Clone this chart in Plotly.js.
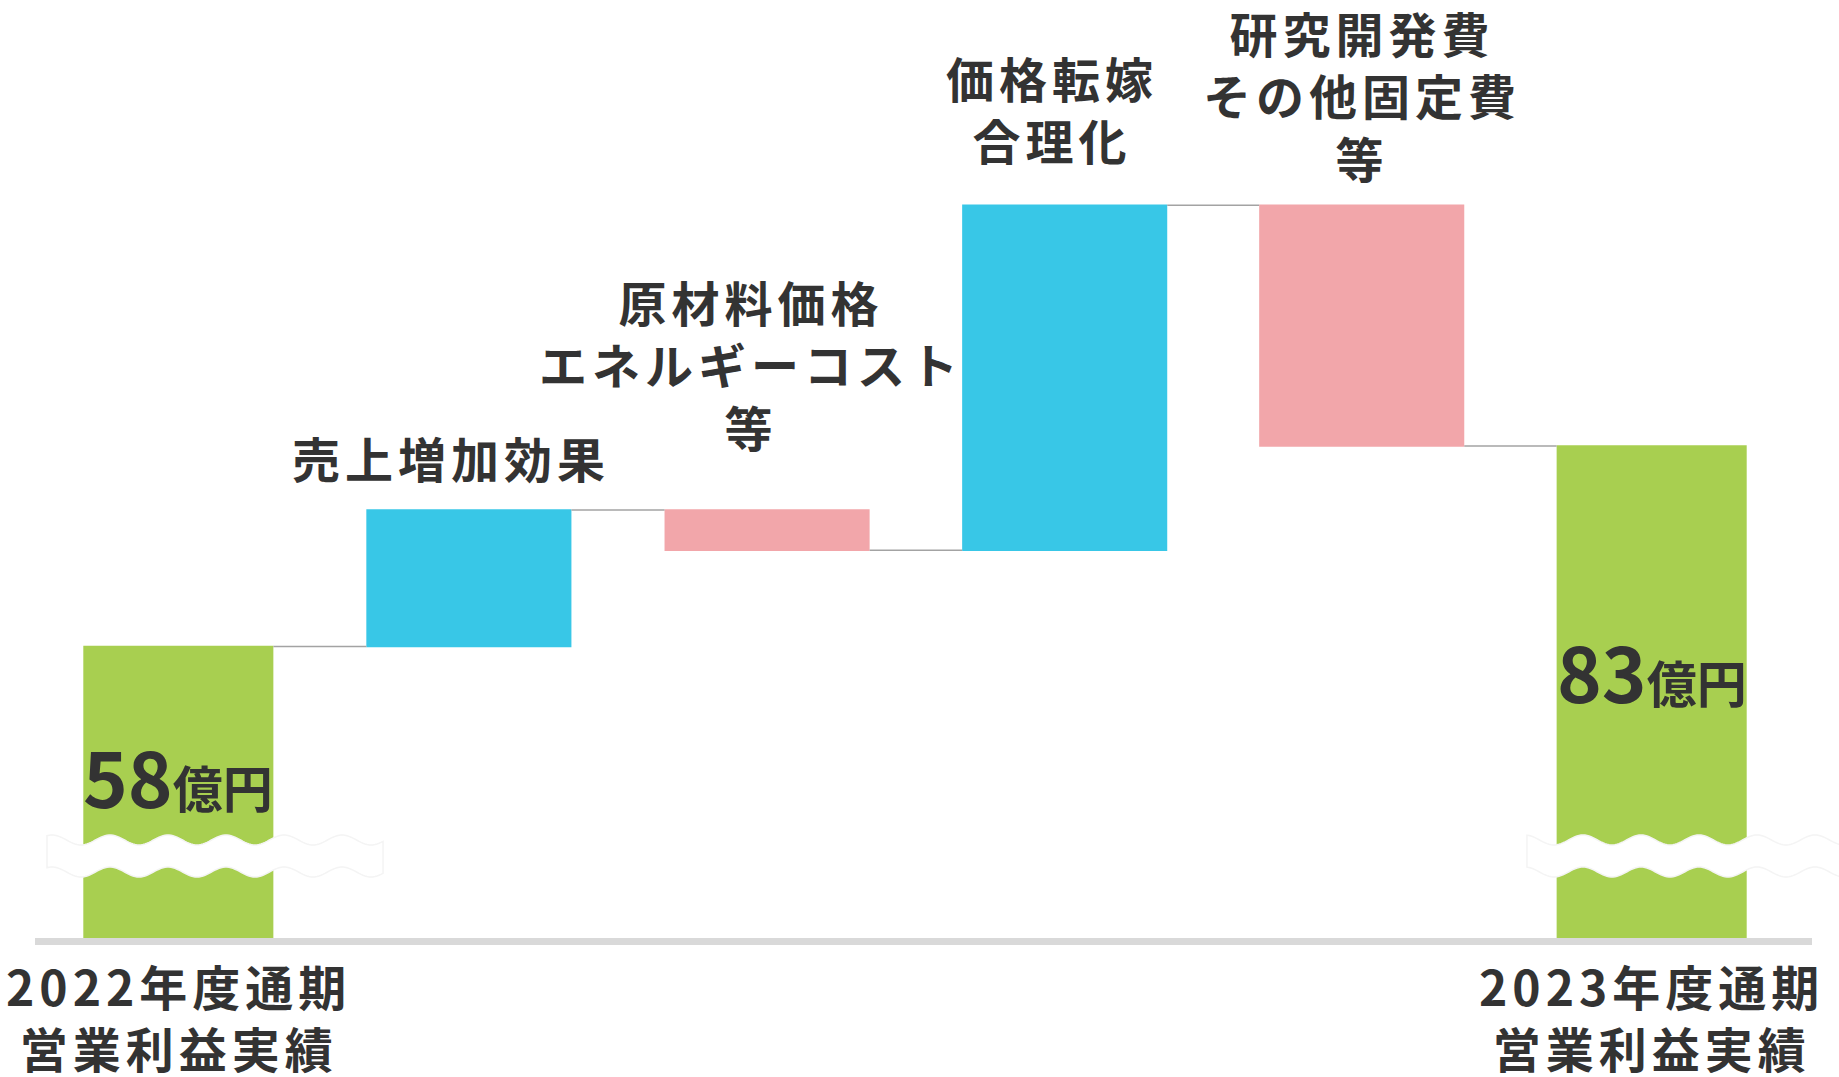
<!DOCTYPE html>
<html>
<head>
<meta charset="utf-8">
<script src="https://cdn.plot.ly/plotly-3.0.1.min.js"></script>
<style>
html,body{margin:0;padding:0;background:#ffffff;}
#chart{width:1839px;height:1077px;}
</style>
</head>
<body>
<div id="chart"></div>
<script>
// ---- data ----
const categories = [
  '2022年度通期<br>営業利益実績',
  '売上増加効果',
  '原材料価格<br>エネルギーコスト<br>等',
  '価格転嫁<br>合理化',
  '研究開発費<br>その他固定費<br>等',
  '2023年度通期<br>営業利益実績'
];
const measures = ['absolute', 'relative', 'relative', 'relative', 'relative', 'total'];
const values = [58, 17, -5, 43, -30, 0];
const unitLabel = '億円';

// ---- styling / layout constants ----
const W = 1839, H = 1077;
const M = {l: 31, r: 40, t: 0, b: 139};
const plotW = W - M.l - M.r, plotH = H - M.t - M.b;
const yRange = [21.65, 138.6];
const COL_TOTAL = '#a8cf50', COL_UP = '#38c7e7', COL_DOWN = '#f2a6aa';
const TXT = '#333333';
const FONT = '"Noto Sans CJK JP", "Noto Sans CJK SC", sans-serif';
const barShift = [0, -0.014, -0.002, 0.008, 0.016, 0];
const labelYShift = [0, 53, 147, 97, 111];
const labelXShift = [0, -22, -17, -10, 5];

// cumulative levels
const levels = [];
let run = 0;
measures.forEach((m, i) => {
  const start = run;
  if (m === 'absolute') run = values[i];
  else if (m === 'relative') run = run + values[i];
  levels.push({start: m === 'relative' ? start : 0, end: run});
});

function spaced(txt) {
  return txt.split('<br>').map(l => '<span style="letter-spacing:5px">' + l + '</span>').join('<br>');
}
function pxX(px) { return (px - M.l) / plotW; }
function pxY(py) { return (M.t + plotH - py) / plotH; }

const widths = measures.map(m => m === 'relative' ? 0.696 : 0.645);
const trace = {
  type: 'waterfall',
  x: categories,
  y: values,
  measure: measures,
  width: widths,
  offset: widths.map((w, i) => -w / 2 + barShift[i]),
  increasing: {marker: {color: COL_UP, line: {width: 0}}},
  decreasing: {marker: {color: COL_DOWN, line: {width: 0}}},
  totals: {marker: {color: COL_TOTAL, line: {width: 0}}},
  connector: {mode: 'between', line: {color: '#a3a3a3', width: 1.5}},
  textposition: 'none',
  hoverinfo: 'skip',
  cliponaxis: true
};

const annotations = [];
categories.forEach((c, i) => {
  if (measures[i] === 'relative') {
    annotations.push({
      x: c, xref: 'x', y: Math.max(levels[i].start, levels[i].end), yref: 'y',
      text: spaced(c), showarrow: false, yanchor: 'middle', xanchor: 'center',
      yshift: labelYShift[i], xshift: labelXShift[i], align: 'center',
      font: {family: FONT, size: 48, color: TXT, weight: 'bold'}
    });
  } else {
    annotations.push({
      x: c, xref: 'x', y: 0, yref: 'paper',
      text: spaced(c), showarrow: false, yanchor: 'middle', xanchor: 'center',
      yshift: -78, align: 'center',
      font: {family: FONT, size: 48, color: TXT, weight: 'bold'}
    });
  }
});
// total value labels inside green bars
const valueLabelPy = {0: 775, 5: 670};
[0, 5].forEach(i => {
  annotations.push({
    x: categories[i], xref: 'x', y: pxY(valueLabelPy[i]), yref: 'paper',
    text: levels[i].end + '<span style="font-size:50px">' + unitLabel + '</span>',
    showarrow: false, yanchor: 'middle', xanchor: 'center',
    font: {family: FONT, size: 76, color: TXT, weight: 'bold'}
  });
});

// wavy break decoration
function wavePath(x0, x1, yc, phase, period, amp, thick) {
  const top = [], bot = [];
  for (let x = x0; x <= x1 + 0.001; x += 2) {
    const off = -amp * Math.cos(2 * Math.PI * (x - phase) / period);
    top.push([x, yc - thick / 2 + off]);
    bot.push([x, yc + thick / 2 + off]);
  }
  const pts = top.concat(bot.reverse());
  return 'M' + pts.map(p => pxX(p[0]).toFixed(5) + ',' + pxY(p[1]).toFixed(5)).join(' L') + ' Z';
}

const shapes = [
  {type: 'line', xref: 'paper', yref: 'paper', x0: pxX(35), x1: pxX(1812), y0: pxY(941.5), y1: pxY(941.5),
   line: {color: '#d9d9d9', width: 7}, layer: 'below'},
  {type: 'path', xref: 'paper', yref: 'paper', path: wavePath(47, 383, 856, 110, 58, 5, 32),
   fillcolor: '#ffffff', line: {color: '#f4f4f4', width: 1.5}, layer: 'above'},
  {type: 'path', xref: 'paper', yref: 'paper', path: wavePath(1527, 1850, 856, 1583, 58, 5, 32),
   fillcolor: '#ffffff', line: {color: '#f4f4f4', width: 1.5}, layer: 'above'}
];

const layout = {
  width: W, height: H,
  margin: M,
  paper_bgcolor: '#ffffff', plot_bgcolor: '#ffffff',
  showlegend: false,
  font: {family: FONT, color: TXT},
  xaxis: {type: 'category', range: [-0.5, 5.5], showgrid: false, zeroline: false, showticklabels: false, showline: false, ticks: ''},
  yaxis: {range: yRange, showgrid: false, zeroline: false, showticklabels: false, showline: false, ticks: ''},
  annotations: annotations,
  shapes: shapes
};

Plotly.newPlot('chart', [trace], layout, {displayModeBar: false, staticPlot: true});
</script>
</body>
</html>
